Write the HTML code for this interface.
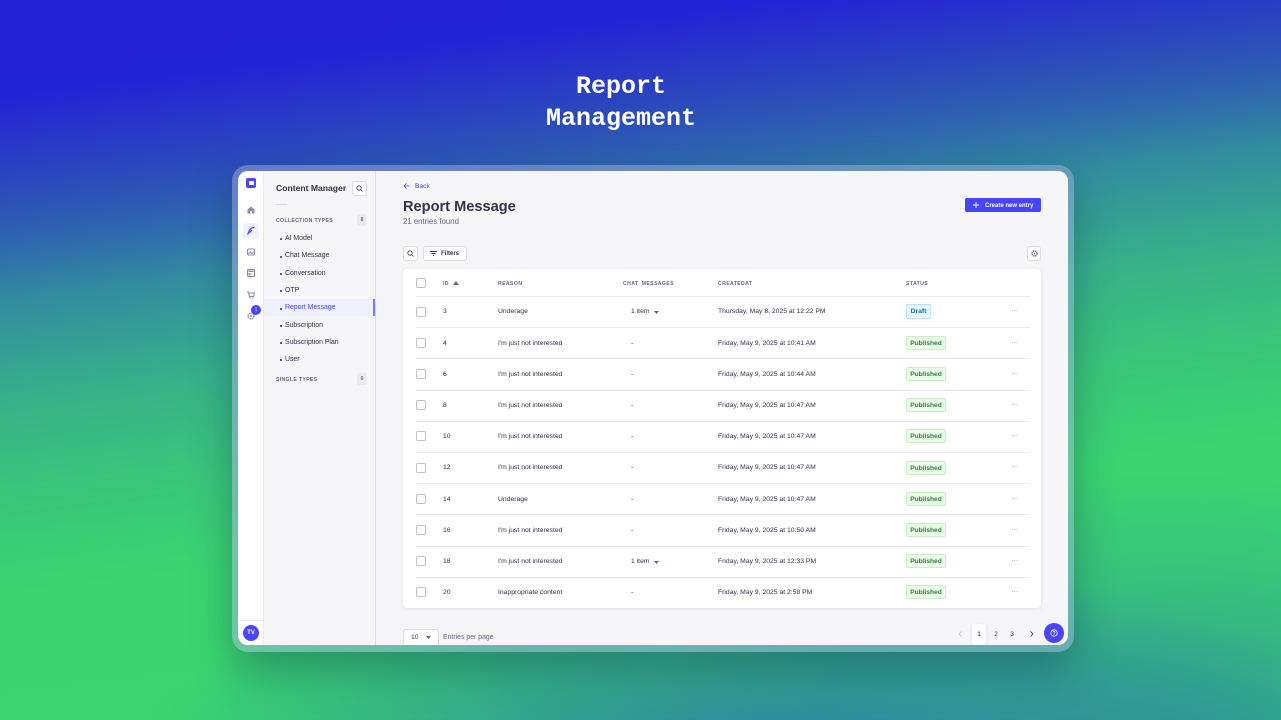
<!DOCTYPE html>
<html><head><meta charset="utf-8"><style>
*{box-sizing:border-box;margin:0;padding:0}
body{width:1281px;height:720px;overflow:hidden;position:relative;font-family:"Liberation Sans",Arial,sans-serif;
background:
radial-gradient(ellipse 650px 200px at 780px 760px, rgba(45,125,165,1) 0%, rgba(45,125,165,0) 100%),
radial-gradient(ellipse 520px 280px at 1180px 750px, rgba(47,150,150,0.85) 0%, rgba(47,150,150,0) 100%),
linear-gradient(173deg,#2420d6 0%,#2422d6 11%,#2c50b8 23%,#2f6aad 28.5%,#328a9f 34%,#37b08a 45.5%,#3ac67a 57%,#3bd470 68%,#3bd870 100%);}
.a{position:absolute;white-space:nowrap}
.title{position:absolute;left:371px;width:500px;top:71px;text-align:center;font-family:"Liberation Mono",monospace;font-weight:bold;font-size:25px;line-height:32px;color:#fff}
.frame{position:absolute;left:232px;top:165px;width:842px;height:487px;border-radius:16px;background:rgba(170,180,225,0.45);box-shadow:0 18px 40px rgba(10,40,70,0.35)}
.screen{position:absolute;left:238px;top:171px;width:830px;height:474px;border-radius:10px;overflow:hidden;background:#f6f6f9}
.nav{position:absolute;left:0;top:0;width:26px;height:474px;background:#fff;border-right:1px solid #eaeaef}
.sub{position:absolute;left:26px;top:0;width:112px;height:474px;background:#f6f6f9;border-right:1px solid #dcdce4}
.t{position:absolute;white-space:nowrap;line-height:10px;height:10px}
.item{position:absolute;left:21px;font-size:6.9px;color:#32324d;line-height:10px;white-space:nowrap}
.item:before{content:"";position:absolute;left:-5px;top:4.5px;width:2px;height:2px;border-radius:1px;background:#32324d}
.lab{font-size:5.2px;font-weight:bold;color:#666687;letter-spacing:0.3px}
.badge{position:absolute;width:10px;height:12px;background:#eaeaef;border-radius:2px;font-size:5px;color:#666687;text-align:center;line-height:12px;font-weight:bold}
.table{position:absolute;left:165px;top:98px;width:638px;height:339px;background:#fff;border-radius:4px;box-shadow:0 1px 4px rgba(33,33,52,0.1)}
.row{position:absolute;left:0;width:638px;height:31.2px}
.row .sep{position:absolute;left:13px;right:11px;top:0;height:1px;background:#eaeaef}
.cb{position:absolute;left:13px;width:10px;height:10px;border:1px solid #c0c0cf;border-radius:2px;background:#fff}
.c{position:absolute;font-size:6.8px;color:#32324d;line-height:10px;white-space:nowrap}
.h{position:absolute;font-size:5.2px;font-weight:bold;color:#666687;letter-spacing:0.35px;line-height:10px;white-space:nowrap}
.pub{position:absolute;left:503px;width:40px;height:14px;background:#eafbe7;border:1px solid #c6f0c2;border-radius:2px;color:#328048;font-size:6.6px;font-weight:bold;text-align:center;line-height:13px}
.draft{position:absolute;left:503px;width:25px;height:15px;background:#eaf5ff;border:1px solid #b8e1ff;border-radius:2px;color:#0c75af;font-size:6.8px;font-weight:bold;text-align:center;line-height:14px}
.dots{position:absolute;left:608px;font-size:8px;color:#9a9ab0;line-height:10px;letter-spacing:-0.3px}
.btn{position:absolute;background:#fff;border:1px solid #dcdce4;border-radius:3px}
.row .c,.row .cb{top:11.4px}
.row .cb{top:10.6px}
.row .dots{top:10.4px}
</style></head><body>
<div class="title">Report<br>Management</div>
<div class="frame"></div>
<div class="screen">
  <div class="nav">
    <div class="a" style="left:8px;top:7px;width:10px;height:10px;background:#4945ff;border-radius:2px"></div>
    <div class="a" style="left:10.5px;top:9.5px;width:5px;height:4px;background:#fff;border-radius:0.5px"></div>
    <svg class="a" style="left:9px;top:35px" width="8" height="8" viewBox="0 0 8 8"><path d="M4 0.5L0.5 3.5V7.5H3V5H5V7.5H7.5V3.5Z" fill="#8e8ea9"/></svg>
    <div class="a" style="left:5px;top:52px;width:16px;height:16px;background:#f0f0ff;border-radius:3px"></div>
    <svg class="a" style="left:9px;top:56px" width="8" height="8" viewBox="0 0 8 8"><path d="M7.5 0.5C4 0.5 2 3 1.5 6L0.5 7.5M2.5 5.5L5 3" stroke="#4945ff" stroke-width="1.3" fill="none"/></svg>
    <svg class="a" style="left:9px;top:77px" width="8" height="8" viewBox="0 0 8 8"><rect x="0.5" y="1" width="7" height="6" rx="1" fill="none" stroke="#8e8ea9" stroke-width="1.1"/><path d="M1.5 6L3.5 4L5 5.5L6.5 4" stroke="#8e8ea9" stroke-width="0.9" fill="none"/></svg>
    <svg class="a" style="left:9px;top:98px" width="8" height="8" viewBox="0 0 8 8"><rect x="0.5" y="0.5" width="7" height="7" rx="1" fill="none" stroke="#8e8ea9" stroke-width="1.1"/><rect x="1.5" y="1.5" width="5" height="1.5" fill="#8e8ea9"/><rect x="1.5" y="4" width="2" height="2.5" fill="#8e8ea9"/></svg>
    <svg class="a" style="left:9px;top:120px" width="8" height="8" viewBox="0 0 8 8"><path d="M0 1H1.5L2.5 5.5H6.5L7.5 2H2" stroke="#8e8ea9" stroke-width="1.1" fill="none"/><circle cx="3" cy="7" r="0.8" fill="#8e8ea9"/><circle cx="6" cy="7" r="0.8" fill="#8e8ea9"/></svg>
    <svg class="a" style="left:9px;top:141px" width="8" height="8" viewBox="0 0 8 8"><circle cx="4" cy="4" r="2.8" fill="none" stroke="#8e8ea9" stroke-width="1.8" stroke-dasharray="1.4 0.8"/><circle cx="4" cy="4" r="1" fill="#8e8ea9"/></svg>
    <div class="a" style="left:13px;top:134px;width:10px;height:10px;border-radius:5px;background:#4945ff;color:#fff;font-size:5px;text-align:center;line-height:10px">1</div>
    <div class="a" style="left:0;top:449px;width:26px;height:1px;background:#eaeaef"></div>
    <div class="a" style="left:5px;top:454px;width:16px;height:16px;border-radius:8px;background:#4945ff;color:#fff;font-size:6px;font-weight:bold;text-align:center;line-height:16px">TV</div>
  </div>
  <div class="sub">
    <div class="t" style="left:12px;top:11.5px;font-size:8.6px;font-weight:bold;color:#32324d">Content Manager</div>
    <div class="btn" style="left:88px;top:10px;width:15px;height:15px"></div>
    <svg class="a" style="left:92px;top:14px" width="7" height="7" viewBox="0 0 7 7"><circle cx="3" cy="3" r="2.2" fill="none" stroke="#32324d" stroke-width="0.8"/><path d="M4.6 4.6L6.5 6.5" stroke="#32324d" stroke-width="0.8"/></svg>
    <div class="a" style="left:12px;top:33px;width:11px;height:1px;background:#dcdce4"></div>
    <div class="t lab" style="left:12px;top:44.5px">COLLECTION TYPES</div>
    <div class="badge" style="left:93px;top:43px">8</div>
    <div class="a" style="left:0;top:128px;width:111px;height:17px;background:#f0f0ff"></div>
    <div class="a" style="left:109px;top:128px;width:2px;height:17px;background:#7b79ff"></div>
    <div class="item" style="top:62.5px">AI Model</div>
    <div class="item" style="top:80px">Chat Message</div>
    <div class="item" style="top:97.5px">Conversation</div>
    <div class="item" style="top:114.5px">OTP</div>
    <div class="item" style="top:132px;color:#4945ff">Report Message</div>
    <div class="item" style="top:149.5px">Subscription</div>
    <div class="item" style="top:166.5px">Subscription Plan</div>
    <div class="item" style="top:183.5px">User</div>
    <div class="t lab" style="left:12px;top:203.5px">SINGLE TYPES</div>
    <div class="badge" style="left:93px;top:202px">0</div>
  </div>
  <svg class="a" style="left:165px;top:12px" width="7" height="6" viewBox="0 0 7 6"><path d="M6.5 3H1M3.5 0.5L1 3L3.5 5.5" stroke="#4945ff" stroke-width="0.8" fill="none"/></svg>
  <div class="t" style="left:177px;top:10.5px;font-size:6.7px;color:#4945ff">Back</div>
  <div class="a" style="left:165px;top:26.5px;font-size:14.6px;font-weight:bold;color:#32324d;line-height:18px">Report Message</div>
  <div class="t" style="left:165px;top:45.5px;font-size:7.8px;color:#666687">21 entries found</div>
  <div class="a" style="left:727px;top:27px;width:76px;height:14px;background:#4945ff;border:1px solid #4945ff;border-radius:2px"></div>
  <svg class="a" style="left:735px;top:31px" width="6" height="6" viewBox="0 0 6 6"><path d="M3 0V6M0 3H6" stroke="#fff" stroke-width="0.9"/></svg>
  <div class="t" style="left:747px;top:29.5px;font-size:6px;font-weight:bold;color:#fff">Create new entry</div>
  <div class="btn" style="left:165px;top:75px;width:15px;height:15px"></div>
  <svg class="a" style="left:169px;top:79px" width="7" height="7" viewBox="0 0 7 7"><circle cx="3" cy="3" r="2.2" fill="none" stroke="#32324d" stroke-width="0.8"/><path d="M4.6 4.6L6.5 6.5" stroke="#32324d" stroke-width="0.8"/></svg>
  <div class="btn" style="left:185px;top:75px;width:44px;height:15px"></div>
  <svg class="a" style="left:192px;top:80px" width="7" height="5" viewBox="0 0 7 5"><path d="M0 0.5H7M1.5 2.5H5.5M2.8 4.5H4.2" stroke="#32324d" stroke-width="0.9"/></svg>
  <div class="t" style="left:203px;top:78px;font-size:6px;font-weight:bold;color:#32324d">Filters</div>
  <div class="btn" style="left:789px;top:75px;width:14px;height:15px"></div>
  <svg class="a" style="left:793px;top:79px" width="7" height="7" viewBox="0 0 8 8"><circle cx="4" cy="4" r="2.8" fill="none" stroke="#666687" stroke-width="1.8" stroke-dasharray="1.4 0.8"/><circle cx="4" cy="4" r="1" fill="#666687"/></svg>

  <div class="table">
    <div class="cb" style="top:8.5px"></div>
    <div class="h" style="left:40px;top:9.5px">ID</div>
    <svg class="a" style="left:50px;top:11.5px" width="6" height="4" viewBox="0 0 6 4"><path d="M0 4L3 0L6 4Z" fill="#666687"/></svg>
    <div class="h" style="left:95px;top:9.5px">REASON</div>
    <div class="h" style="left:220px;top:9.5px">CHAT_MESSAGES</div>
    <div class="h" style="left:315px;top:9.5px">CREATEDAT</div>
    <div class="h" style="left:503px;top:9.5px">STATUS</div>

    <div class="row" style="top:27px"><div class="sep"></div><div class="cb"></div><div class="c" style="left:40px">3</div><div class="c" style="left:95px">Underage</div><div class="c" style="left:228px">1 item</div><svg class="a" style="left:251px;top:15px" width="5" height="3" viewBox="0 0 5 3"><path d="M0 0H5L2.5 3Z" fill="#666687"/></svg><div class="c" style="left:315px">Thursday, May 8, 2025 at 12:22 PM</div><div class="draft" style="top:8px">Draft</div><div class="dots">···</div></div>

    <div class="row" style="top:58.2px"><div class="sep"></div><div class="cb"></div><div class="c" style="left:40px">4</div><div class="c" style="left:95px">I'm just not interested</div><div class="c" style="left:228px">-</div><div class="c" style="left:315px">Friday, May 9, 2025 at 10:41 AM</div><div class="pub" style="top:8.6px">Published</div><div class="dots">···</div></div>

    <div class="row" style="top:89.4px"><div class="sep"></div><div class="cb"></div><div class="c" style="left:40px">6</div><div class="c" style="left:95px">I'm just not interested</div><div class="c" style="left:228px">-</div><div class="c" style="left:315px">Friday, May 9, 2025 at 10:44 AM</div><div class="pub" style="top:8.6px">Published</div><div class="dots">···</div></div>

    <div class="row" style="top:120.6px"><div class="sep"></div><div class="cb"></div><div class="c" style="left:40px">8</div><div class="c" style="left:95px">I'm just not interested</div><div class="c" style="left:228px">-</div><div class="c" style="left:315px">Friday, May 9, 2025 at 10:47 AM</div><div class="pub" style="top:8.6px">Published</div><div class="dots">···</div></div>

    <div class="row" style="top:151.8px"><div class="sep"></div><div class="cb"></div><div class="c" style="left:40px">10</div><div class="c" style="left:95px">I'm just not interested</div><div class="c" style="left:228px">-</div><div class="c" style="left:315px">Friday, May 9, 2025 at 10:47 AM</div><div class="pub" style="top:8.6px">Published</div><div class="dots">···</div></div>

    <div class="row" style="top:183px"><div class="sep"></div><div class="cb"></div><div class="c" style="left:40px">12</div><div class="c" style="left:95px">I'm just not interested</div><div class="c" style="left:228px">-</div><div class="c" style="left:315px">Friday, May 9, 2025 at 10:47 AM</div><div class="pub" style="top:8.6px">Published</div><div class="dots">···</div></div>

    <div class="row" style="top:214.2px"><div class="sep"></div><div class="cb"></div><div class="c" style="left:40px">14</div><div class="c" style="left:95px">Underage</div><div class="c" style="left:228px">-</div><div class="c" style="left:315px">Friday, May 9, 2025 at 10:47 AM</div><div class="pub" style="top:8.6px">Published</div><div class="dots">···</div></div>

    <div class="row" style="top:245.4px"><div class="sep"></div><div class="cb"></div><div class="c" style="left:40px">16</div><div class="c" style="left:95px">I'm just not interested</div><div class="c" style="left:228px">-</div><div class="c" style="left:315px">Friday, May 9, 2025 at 10:50 AM</div><div class="pub" style="top:8.6px">Published</div><div class="dots">···</div></div>

    <div class="row" style="top:276.6px"><div class="sep"></div><div class="cb"></div><div class="c" style="left:40px">18</div><div class="c" style="left:95px">I'm just not interested</div><div class="c" style="left:228px">1 item</div><svg class="a" style="left:251px;top:15px" width="5" height="3" viewBox="0 0 5 3"><path d="M0 0H5L2.5 3Z" fill="#666687"/></svg><div class="c" style="left:315px">Friday, May 9, 2025 at 12:33 PM</div><div class="pub" style="top:8.6px">Published</div><div class="dots">···</div></div>

    <div class="row" style="top:307.8px"><div class="sep"></div><div class="cb"></div><div class="c" style="left:40px">20</div><div class="c" style="left:95px">Inappropriate content</div><div class="c" style="left:228px">-</div><div class="c" style="left:315px">Friday, May 9, 2025 at 2:58 PM</div><div class="pub" style="top:8.6px">Published</div><div class="dots">···</div></div>
  </div>

  <div class="btn" style="left:165px;top:458px;width:36px;height:20px"></div>
  <div class="t" style="left:173px;top:461.5px;font-size:6.8px;color:#32324d">10</div>
  <svg class="a" style="left:188px;top:465px" width="5" height="3" viewBox="0 0 5 3"><path d="M0 0H5L2.5 3Z" fill="#666687"/></svg>
  <div class="t" style="left:205px;top:461.5px;font-size:6.9px;color:#666687">Entries per page</div>
  <svg class="a" style="left:720px;top:460px" width="4" height="6" viewBox="0 0 4 6"><path d="M3.5 0.5L1 3L3.5 5.5" stroke="#c0c0cf" stroke-width="0.8" fill="none"/></svg>
  <div class="a" style="left:734px;top:453px;width:14px;height:21px;background:#fff;border-radius:3px;box-shadow:0 1px 3px rgba(33,33,52,0.1)"></div>
  <div class="t" style="left:734px;top:458.5px;width:14px;text-align:center;font-size:6.5px;font-weight:bold;color:#4945ff">1</div>
  <div class="t" style="left:754px;top:458.5px;width:8px;text-align:center;font-size:6.5px;color:#32324d">2</div>
  <div class="t" style="left:770px;top:458.5px;width:8px;text-align:center;font-size:6.5px;color:#32324d">3</div>
  <svg class="a" style="left:792px;top:460px" width="4" height="6" viewBox="0 0 4 6"><path d="M0.5 0.5L3 3L0.5 5.5" stroke="#32324d" stroke-width="0.8" fill="none"/></svg>
  <div class="a" style="left:806px;top:452px;width:20px;height:20px;border-radius:10px;background:#4945ff"></div>
  <svg class="a" style="left:812px;top:458px" width="8" height="8" viewBox="0 0 8 8"><circle cx="4" cy="4" r="3.2" fill="none" stroke="#fff" stroke-width="0.8"/><path d="M2.9 3.2C2.9 2.1 5.1 2.1 5.1 3.2C5.1 4 4 4 4 4.8" stroke="#fff" stroke-width="0.7" fill="none"/><circle cx="4" cy="5.8" r="0.4" fill="#fff"/></svg>
</div>
</body></html>
